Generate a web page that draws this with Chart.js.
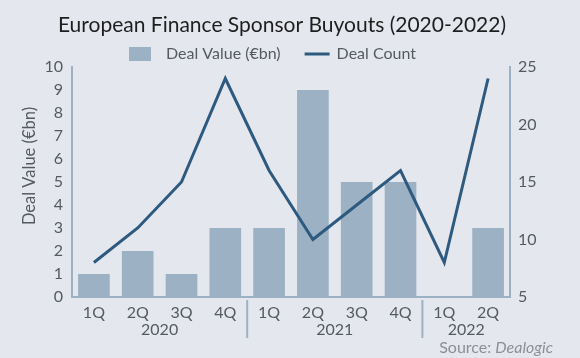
<!DOCTYPE html>
<html>
<head>
<meta charset="utf-8">
<script src="https://cdn.jsdelivr.net/npm/chart.js@4"></script>
<style>
  html, body { margin: 0; padding: 0; background: #e4e8ee; }
  #wrap { width: 580px; height: 358px; }
</style>
</head>
<body>
<div id="wrap"><canvas id="c" width="580" height="358"></canvas></div>
<script>
const quarters = ['1Q', '2Q', '3Q', '4Q', '1Q', '2Q', '3Q', '4Q', '1Q', '2Q'];
const years = ['2020', '2020', '2020', '2020', '2021', '2021', '2021', '2021', '2022', '2022'];
const dealValue = [1, 2, 1, 3, 3, 9, 5, 5, 0, 3];
const dealCount = [8, 11, 15, 24, 16, 10, 13, 16, 8, 24];
const leftAxisRange = [0, 10, 1];
const rightAxisRange = [5, 25, 5];
const titleText = 'European Finance Sponsor Buyouts (2020-2022)';
const yTitleText = 'Deal Value (€bn)';

const BG = '#e4e8ee';
const BAR = '#9cb1c4';
const LINE = '#2e5a7f';
const AXIS = '#9db1c4';
const TEXT = '#555a60';
const FONT = 'Lato';

const decorPlugin = {
  id: 'decor',
  beforeDraw(chart) {
    const ctx = chart.ctx;
    ctx.save();
    ctx.fillStyle = BG;
    ctx.fillRect(0, 0, chart.width, chart.height);
    // title
    ctx.fillStyle = '#1e1e1e';
    ctx.font = '21px ' + FONT;
    ctx.textAlign = 'center';
    ctx.textBaseline = 'alphabetic';
    ctx.fillText(titleText, 282, 32);
    // legend
    ctx.font = '16px ' + FONT;
    ctx.textBaseline = 'middle';
    ctx.textAlign = 'left';
    const ly = 54;
    let lx = 129;
    chart.data.datasets.forEach((ds) => {
      if (ds.type === 'bar') {
        ctx.fillStyle = ds.backgroundColor;
        ctx.fillRect(lx, ly - 7, 22, 14);
        lx += 37;
      } else {
        ctx.strokeStyle = ds.borderColor;
        ctx.lineWidth = ds.borderWidth;
        ctx.beginPath();
        ctx.moveTo(lx, ly);
        ctx.lineTo(lx + 25, ly);
        ctx.stroke();
        lx += 32;
      }
      ctx.fillStyle = TEXT;
      ctx.fillText(ds.label, lx, ly);
      lx += ctx.measureText(ds.label).width + 24;
    });
    // y axis title
    ctx.save();
    ctx.translate(30, 166);
    ctx.rotate(-Math.PI / 2);
    ctx.textAlign = 'center';
    ctx.textBaseline = 'middle';
    ctx.font = '16.5px ' + FONT;
    ctx.fillStyle = TEXT;
    ctx.fillText(yTitleText, 0, 0);
    ctx.restore();
    ctx.restore();
  },
  afterDraw(chart) {
    const ctx = chart.ctx;
    const x = chart.scales.x;
    const base = chart.chartArea.bottom;
    ctx.save();
    let start = 0;
    for (let i = 1; i <= years.length; i++) {
      if (i === years.length || years[i] !== years[start]) {
        const cx = (x.getPixelForValue(start) + x.getPixelForValue(i - 1)) / 2;
        ctx.fillStyle = TEXT;
        ctx.font = '16px ' + FONT;
        ctx.textAlign = 'center';
        ctx.textBaseline = 'middle';
        ctx.fillText(years[start], cx, base + 33);
        if (i < years.length) {
          const sx = (x.getPixelForValue(i - 1) + x.getPixelForValue(i)) / 2;
          ctx.strokeStyle = AXIS;
          ctx.lineWidth = 2;
          ctx.beginPath();
          ctx.moveTo(sx, base + 3);
          ctx.lineTo(sx, base + 41);
          ctx.stroke();
        }
        start = i;
      }
    }
    ctx.textBaseline = 'middle';
    ctx.textAlign = 'left';
    ctx.fillStyle = '#8c9095';
    ctx.font = 'italic 16px ' + FONT;
    const w2 = ctx.measureText('Dealogic').width;
    ctx.font = '16px ' + FONT;
    const w1 = ctx.measureText('Source: ').width;
    const right = 553;
    ctx.fillText('Source: ', right - w2 - w1, base + 51);
    ctx.font = 'italic 16px ' + FONT;
    ctx.fillText('Dealogic', right - w2, base + 51);
    ctx.restore();
  }
};

new Chart(document.getElementById('c'), {
  data: {
    labels: quarters,
    datasets: [
      {
        type: 'bar',
        label: 'Deal Value (€bn)',
        data: dealValue,
        backgroundColor: BAR,
        borderWidth: 0,
        yAxisID: 'y',
        categoryPercentage: 1.0,
        barPercentage: 0.723,
        order: 2
      },
      {
        type: 'line',
        label: 'Deal Count',
        data: dealCount,
        borderColor: LINE,
        backgroundColor: LINE,
        borderWidth: 3,
        pointRadius: 0,
        tension: 0,
        yAxisID: 'y2',
        order: 1
      }
    ]
  },
  options: {
    responsive: false,
    animation: false,
    devicePixelRatio: 1,
    layout: { padding: { top: 67, left: 0, right: 0, bottom: 0 } },
    plugins: {
      title: { display: false },
      legend: { display: false },
      tooltip: { enabled: false }
    },
    scales: {
      x: {
        type: 'category',
        offset: true,
        grid: { display: false, drawTicks: false },
        border: { display: true, color: AXIS, width: 2 },
        ticks: { color: TEXT, font: { family: FONT, size: 16 }, padding: 6, maxRotation: 0, autoSkip: false },
        afterFit(scale) { scale.height = 61; }
      },
      y: {
        position: 'left',
        min: leftAxisRange[0], max: leftAxisRange[1],
        grid: { display: false, drawTicks: false },
        border: { display: true, color: AXIS, width: 2 },
        ticks: { stepSize: leftAxisRange[2], autoSkip: false, color: TEXT, font: { family: FONT, size: 16 }, padding: 9 },
        title: { display: false },
        afterFit(scale) { scale.width = 72; }
      },
      y2: {
        position: 'right',
        min: rightAxisRange[0], max: rightAxisRange[1],
        grid: { display: false, drawTicks: false },
        border: { display: true, color: AXIS, width: 2 },
        ticks: { stepSize: rightAxisRange[2], autoSkip: false, color: TEXT, font: { family: FONT, size: 16 }, padding: 8 },
        afterFit(scale) { scale.width = 70; }
      }
    }
  },
  plugins: [decorPlugin]
});
</script>
</body>
</html>
